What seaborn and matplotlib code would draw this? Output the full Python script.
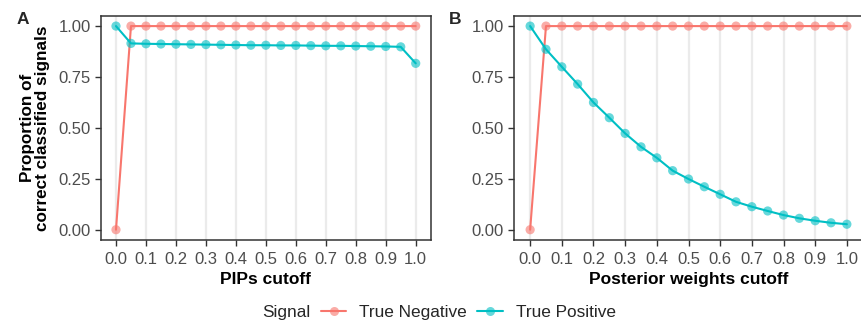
import numpy as np
import pandas as pd
import matplotlib
matplotlib.use("Agg")
import matplotlib.pyplot as plt
from matplotlib.lines import Line2D
import seaborn as sns

cutoffs = [round(0.05 * i, 2) for i in range(21)]
tick_labels = ["0.0", "0.1", "0.2", "0.3", "0.4", "0.5", "0.6", "0.7", "0.8", "0.9", "1.0"]

pip_true_negative = [0.0] + [1.0] * 20
pip_true_positive = [1.0, 0.915, 0.913, 0.912, 0.911, 0.910, 0.909, 0.908, 0.907, 0.906,
                     0.906, 0.905, 0.905, 0.904, 0.903, 0.903, 0.902, 0.901, 0.900, 0.898, 0.817]

pw_true_negative = [0.0] + [1.0] * 20
pw_true_positive = [1.0, 0.886, 0.800, 0.715, 0.625, 0.550, 0.473, 0.407, 0.353, 0.290,
                    0.249, 0.211, 0.174, 0.137, 0.113, 0.092, 0.072, 0.056, 0.044, 0.034, 0.027]

signals = ["True Negative", "True Positive"]
colors = {"True Negative": "#F8766D", "True Positive": "#00BFC4"}


def make_df(tn, tp):
    return pd.DataFrame({
        "cutoff": cutoffs * 2,
        "prop": tn + tp,
        "Signal": [signals[0]] * len(cutoffs) + [signals[1]] * len(cutoffs),
    })


df_pip = make_df(pip_true_negative, pip_true_positive)
df_pw = make_df(pw_true_negative, pw_true_positive)

sns.set_theme(style="white")
plt.rcParams["font.family"] = ["Liberation Sans", "DejaVu Sans"]

W, H = 861, 323
fig = plt.figure(figsize=(W / 100, H / 100), dpi=100)

ax_bottom = (H - 239.9) / H
ax_height = 224.0 / H
axA = fig.add_axes([101 / W, ax_bottom, 329.7 / W, ax_height])
axB = fig.add_axes([514.3 / W, ax_bottom, 348.4 / W, ax_height])

tick_color = "#4D4D4D"
for ax, df, xlabel in [(axA, df_pip, "PIPs cutoff"), (axB, df_pw, "Posterior weights cutoff")]:
    ax.set_xlim(-0.05, 1.05)
    ax.set_ylim(-0.05, 1.05)
    ax.set_xticks(np.arange(0, 11) / 10)
    ax.set_xticklabels(tick_labels)
    ax.set_yticks([0, 0.25, 0.5, 0.75, 1.0])
    ax.set_yticklabels(["0.00", "0.25", "0.50", "0.75", "1.00"])
    ax.grid(False)
    for xv in np.arange(0, 11) / 10:
        ax.axvline(xv, color="#EBEBEB", lw=1.6, zorder=0)
    sns.lineplot(data=df, x="cutoff", y="prop", hue="Signal", palette=colors,
                 ax=ax, legend=False, lw=1.5, zorder=2)
    sns.scatterplot(data=df, x="cutoff", y="prop", hue="Signal", palette=colors,
                    ax=ax, legend=False, s=44, alpha=0.6, edgecolor="none", zorder=3)
    ax.set_xlabel(xlabel, fontsize=12.5, fontweight="bold", color="black", labelpad=4)
    ax.set_ylabel("")
    ax.tick_params(axis="x", pad=4.5)
    ax.tick_params(axis="y", pad=3.5)
    ax.tick_params(axis="both", which="major", length=4, width=1.0, color="#333333",
                   labelsize=12, labelcolor=tick_color, bottom=True, left=True)
    for sp in ax.spines.values():
        sp.set_color("#333333")
        sp.set_linewidth(1.1)

axA.set_ylabel("Proportion of\ncorrect classified signals", fontsize=12.3,
               fontweight="bold", color="black", linespacing=0.95)
axA.yaxis.set_label_coords(-0.155, 0.5)

fig.text(17 / W, 1 - 24 / H, "A", fontsize=12.5, fontweight="bold", ha="left", va="baseline")
fig.text(449 / W, 1 - 24 / H, "B", fontsize=12.5, fontweight="bold", ha="left", va="baseline")

handles = [Line2D([0], [0], color=colors[s], lw=1.5, marker="o", markersize=6.5,
                  markerfacecolor=matplotlib.colors.to_rgba(colors[s], 0.6),
                  markeredgecolor="none") for s in signals]
fig.text(262 / W, 1 - 312 / H, "Signal", fontsize=12.4, ha="left", va="center")
fig.legend(handles, signals, loc="center left", bbox_to_anchor=(321 / W, 1 - 312 / H),
           ncol=2, frameon=False, fontsize=12.4, handlelength=1.47, handletextpad=0.75,
           columnspacing=0.6, borderaxespad=0, borderpad=0)

fig.savefig("out.png", dpi=100)
